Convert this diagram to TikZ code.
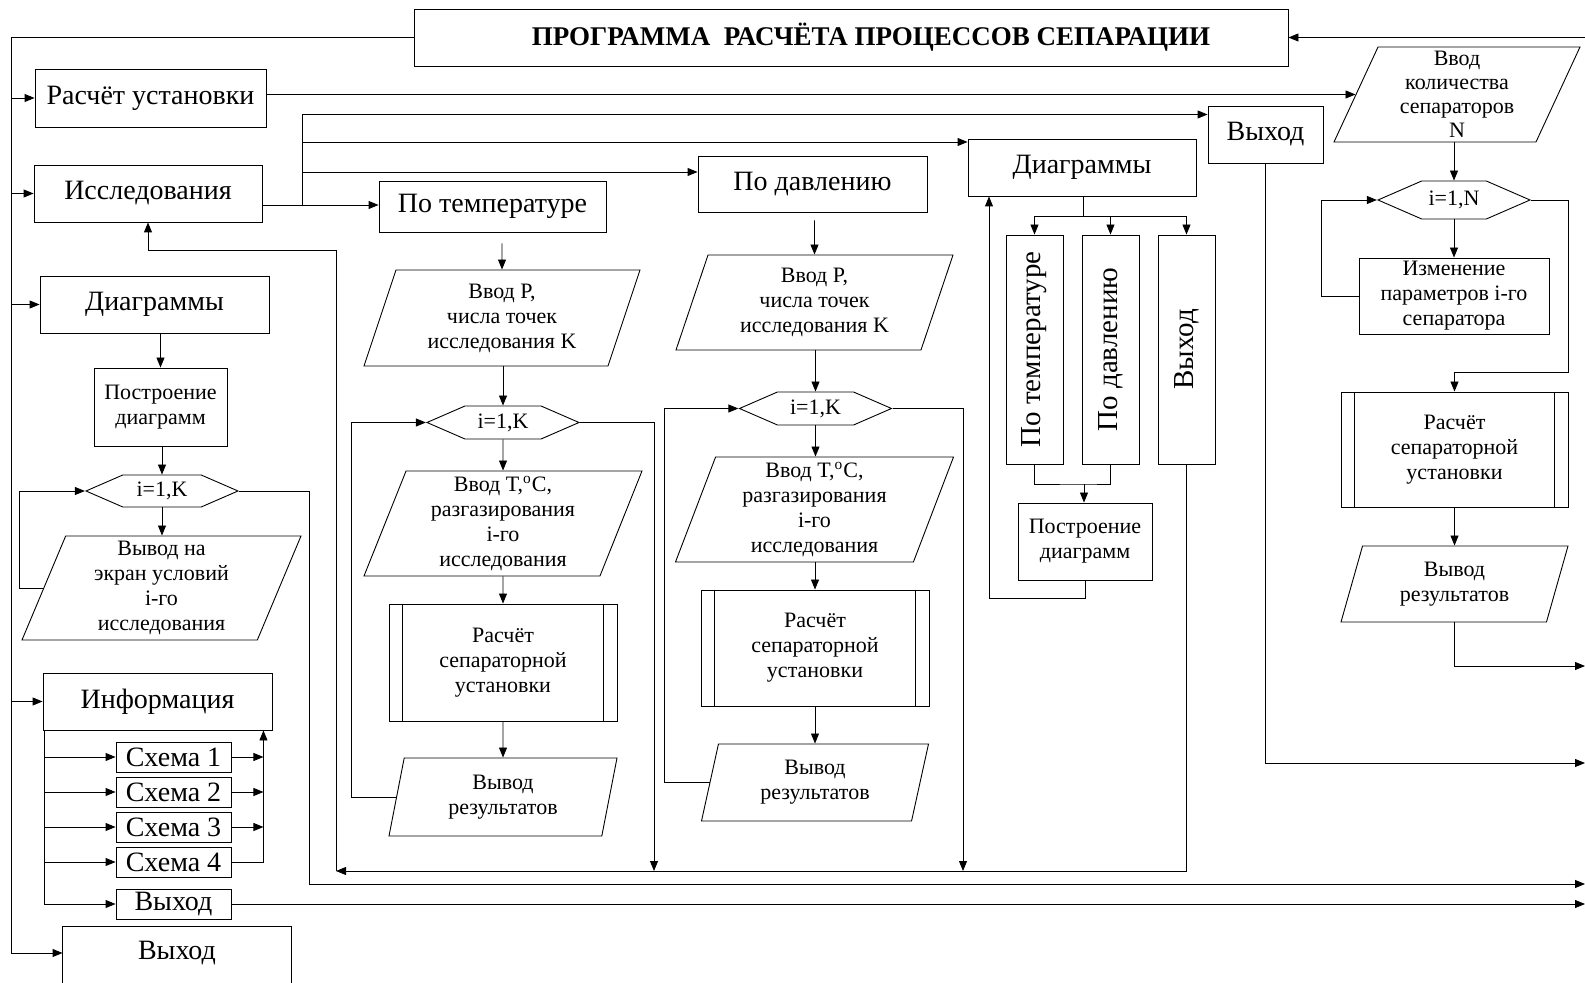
\documentclass[tikz,border=0pt]{standalone}
\usepackage{fontspec}
\setmainfont{Liberation Serif}
\usetikzlibrary{positioning,arrows.meta,shapes.geometric,shapes.symbols}
\tikzset{
  arr/.style ={-{Triangle[length=5pt,width=4pt]}},
  blk/.style ={draw, rectangle, align=center, inner sep=1pt, font=\fontsize{14}{16}\selectfont},
  sml/.style ={draw, rectangle, align=center, inner sep=1pt, font=\fontsize{11}{12.5}\selectfont},
  io/.style  ={draw, trapezium, trapezium left angle=#1, trapezium right angle={180-#1},
               trapezium stretches body, align=center, inner sep=0pt, font=\fontsize{11}{12.5}\selectfont},
  cyc/.style ={draw, signal, signal to=east and west, signal pointer angle=47, inner sep=0pt,
               minimum width=76pt, minimum height=16.5pt, font=\fontsize{11}{13}\selectfont},
}

\begin{document}
\begin{tikzpicture}[x=0.5pt, y=-0.5pt, line width=0.45pt]
  \useasboundingbox (0,0) rectangle (1585,983);
  \coordinate (redge) at (1585,0);

  % ---------- Top: title and main menu ----------
  \node[blk, font=\fontsize{13.5}{16}\selectfont\bfseries, minimum width=437pt, minimum height=28.5pt]
    (title) at (851,37.5) {\hspace*{20pt}ПРОГРАММА\enspace РАСЧЁТА ПРОЦЕССОВ СЕПАРАЦИИ};
  \node[blk, minimum width=115.5pt, minimum height=29pt] (calc) at (150.5,98) {Расчёт установки};
  \node[blk, minimum width=114pt, minimum height=28.5pt] (study) at (148,193.5) {Исследования};
  \node[blk, minimum width=114.5pt, minimum height=28.5pt] (diag) at (154.5,304.5) {Диаграммы};
  \node[blk, minimum width=114.5pt, minimum height=28.5pt] (info) at (157.5,701.5) {Информация};
  \node[blk, draw=none, minimum width=114pt, minimum height=26pt] (quit) at (177,953) {Выход};
  \draw ([yshift=-20pt]quit.south west) |- (quit.north) -| ([yshift=-20pt]quit.south east);

  % left bus from the title
  \coordinate (lbus) at (11,37.5);
  \draw (title.west) -- (lbus) -- (lbus |- quit.west);
  \foreach \n in {calc,study,diag,info,quit}
    \draw[arr] (lbus |- \n.west) -- (\n.west);

  % ---------- Left: diagrams ----------
  \node[sml, minimum width=66.5pt, minimum height=39pt] (build1) at (160.5,407) {Построение\\диаграмм};
  \node[cyc, minimum height=16pt] (cyc1) at (162,491) {i=1,K};
  \node[io=65, minimum width=139.5pt, minimum height=52pt] (show1) at (161.5,588)
    {Вывод на\\экран условий\\i-го\\исследования};
  \draw[arr] (diag.south -| build1) -- (build1.north);
  \draw[arr] (build1.south -| cyc1) -- (cyc1.north);
  \draw[arr] (cyc1.south) -- (cyc1.south |- show1.north);
  \draw[arr] (show1.west) -- ++(-23.5,0) |- (cyc1.west);
  \draw[arr] (cyc1.east) -| (309,884) -- (redge |- 0,884);

  % ---------- Left: information ----------
  \foreach \s/\y in {1/757,2/792,3/827,4/862}
    \node[blk, minimum width=57.5pt, minimum height=15pt, inner sep=0pt] (sch\s) at (173.5,\y) {Схема \s};
  \node[blk, minimum width=57.5pt, minimum height=15pt, inner sep=0pt] (ex1) at (173.5,904) {Выход};
  \coordinate (ibus) at ([xshift=1pt]info.south west);
  \coordinate (rbus) at ([xshift=-4.5pt]info.south east);
  \draw[arr] (ibus) |- (ex1.west);
  \foreach \s in {sch1,sch2,sch3,sch4}
    \draw[arr] (ibus |- \s.west) -- (\s.west);
  \foreach \s in {sch1,sch2,sch3}
    \draw[arr] (\s.east) -- (\s.east -| rbus);
  \draw[arr] (sch4.east) -| (rbus);
  \draw[arr] (ex1.east) -- (ex1.east -| redge);

  % ---------- Middle: research branches ----------
  \node[blk, minimum width=113.5pt, minimum height=25.5pt] (temp) at (492.5,206.5) {По температуре};
  \node[blk, minimum width=114.5pt, minimum height=28pt] (press) at (812.5,184) {По давлению};
  \node[blk, minimum width=114pt, minimum height=28.5pt] (diag2) at (1082,167.5) {Диаграммы};
  \node[blk, minimum width=57.5pt, minimum height=28.5pt] (exit2) at (1265.5,134.5) {Выход};
  \coordinate (fan) at (302,205);
  \draw[arr] (study.east |- fan) -- (temp.west |- fan);
  \draw[arr] (fan) |- ([yshift=10pt]exit2.west);
  \draw[arr] (fan) |- ([yshift=12.75pt]diag2.west);
  \draw[arr] (fan) |- ([yshift=6pt]press.west);

  % by temperature
  \node[io=65, minimum width=138pt, minimum height=48pt] (inP1) at (502,318)
    {Ввод P,\\ числа точек\\исследования K};
  \node[cyc] (cyc2) at (503,422.5) {i=1,K};
  \node[io=66, minimum width=139pt, minimum height=52.5pt] (inT1) at (503,523.5)
    {Ввод T,\textsuperscript{o}C,\\разгазирования\\i-го\\исследования};
  \node[sml, minimum width=114pt, minimum height=58.5pt] (proc1) at (503,662.5) {Расчёт\\сепараторной\\установки};
  \node[io=71, minimum width=114pt, minimum height=39pt] (out2) at (503,797) {Вывод\\результатов};
  \draw[arr] ([yshift=-5.5pt]temp.south -| inP1) -- (inP1.north);
  \draw[arr] (inP1.south -| cyc2) -- (cyc2.north);
  \draw[arr] (cyc2.south) -- (inT1.north);
  \draw[arr] (inT1.south) -- (proc1.north);
  \draw[arr] (proc1.south) -- (out2.north);
  \draw[arr] (out2.west) -| (351,422.5) -- (cyc2.west);
  \draw[arr] (cyc2.east) -| (654,871);

  % by pressure
  \node[io=65, minimum width=138.5pt, minimum height=47.5pt] (inP2) at (814.5,302.5)
    {Ввод P,\\ числа точек\\исследования K};
  \node[cyc] (cyc3) at (815.5,408.5) {i=1,K};
  \node[io=67, minimum width=139pt, minimum height=52.5pt] (inT2) at (814.5,509.5)
    {Ввод T,\textsuperscript{o}C,\\разгазирования\\i-го\\исследования};
  \node[sml, minimum width=114pt, minimum height=58pt] (proc2) at (815,648) {Расчёт\\сепараторной\\установки};
  \node[io=69, minimum width=113.5pt, minimum height=38.5pt] (out3) at (815,782.5) {Вывод\\результатов};
  \draw[arr] ([yshift=-4pt]press.south -| inP2) -- (inP2.north);
  \draw[arr] (inP2.south -| cyc3) -- (cyc3.north);
  \draw[arr] (cyc3.south) -- (cyc3.south |- inT2.north);
  \draw[arr] (inT2.south -| proc2) -- (proc2.north);
  \draw[arr] (proc2.south) -- (proc2.south |- out3.north);
  \draw[arr] (out3.west) -| (664,408.5) -- (cyc3.west);
  \draw[arr] (cyc3.east) -| (963,871);

  % ---------- Middle right: diagrams ----------
  \foreach \v/\x/\t in {1/1034.5/По температуре,2/1110.5/По давлению,3/1186.5/Выход}
    \node[blk, minimum width=28.5pt, minimum height=114.5pt, inner sep=0pt,
          font=\fontsize{14.5}{16}\selectfont] (vb\v) at (\x,349.5) {\rotatebox{90}{\t}};
  \node[sml, minimum width=67pt, minimum height=38.5pt] (build2) at (1085,541.5) {Построение\\диаграмм};
  \coordinate (split) at (1083,216);
  \coordinate (merge) at (1084,484);
  \draw (diag2.south -| split) -- (split);
  \draw (vb1.north |- split) -- (vb3.north |- split);
  \foreach \v in {vb1,vb2,vb3}
    \draw[arr] (\v.north |- split) -- (\v.north);
  \draw (vb1.south) |- (merge) -| (vb2.south);
  \draw[arr] (merge) -- (merge |- build2.north);
  \draw[arr] (build2.south) |- (989,598) -- (989,0 |- diag2.south);

  % return bus to research
  \coordinate (ret) at (336,250);
  \draw[arr] (vb3.south) |- (336,871);
  \draw[arr] (336,871) -- (ret) -| (study.south);
  \draw[arr] (exit2.south) |- (redge |- 0,763);

  % ---------- Right: plant calculation ----------
  \node[io=63, minimum width=123pt, minimum height=47.5pt, font=\fontsize{11}{12}\selectfont] (inN) at (1457,94.5)
    {Ввод\\количества\\сепараторов\\N};
  \node[cyc, minimum height=19pt] (cycN) at (1454,200) {i=1,N};
  \node[sml, minimum width=95pt, minimum height=38pt] (chg) at (1454,296) {Изменение\\параметров i-го\\сепаратора};
  \node[sml, minimum width=113.5pt, minimum height=57.5pt] (proc3) at (1454.5,449.5) {Расчёт\\сепараторной\\установки};
  \node[io=64, minimum width=113.5pt, minimum height=38pt] (out4) at (1454.5,584) {Вывод\\результатов};
  \draw[arr] (calc.east |- inN.west) -- (inN.west);
  \draw[arr] (inN.south -| cycN) -- (cycN.north);
  \draw[arr] (cycN.south) -- (chg.north);
  \draw[arr] (chg.west) -- ++(-37,0) |- (cycN.west);
  \draw[arr] (cycN.east) -| (1568,372) -| (proc3.north);
  \draw[arr] (proc3.south) -- (out4.north);
  \draw[arr] (out4.south) |- (redge |- 0,666);
  \draw[arr] (redge |- title.east) -- (title.east);

  % side bars of the subroutine blocks
  \foreach \p in {proc1,proc2,proc3}
    \draw ([xshift=7pt]\p.north west) -- ([xshift=7pt]\p.south west)
          ([xshift=-7pt]\p.north east) -- ([xshift=-7pt]\p.south east);
\end{tikzpicture}
\end{document}
